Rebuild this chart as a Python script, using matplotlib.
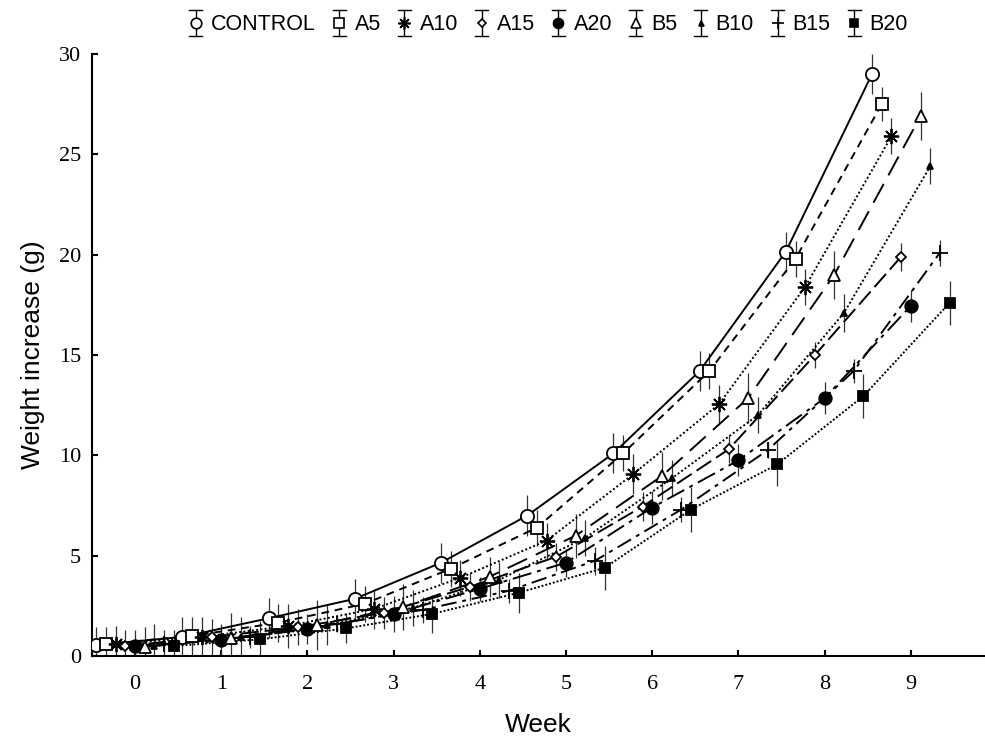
import numpy as np
import matplotlib
matplotlib.use("Agg")
import matplotlib.pyplot as plt
from matplotlib.lines import Line2D
from matplotlib.legend_handler import HandlerBase

# week index and horizontal offset of each group (groups are staggered around the week)
weeks = np.arange(10)
groups = ["CONTROL", "A5", "A10", "A15", "A20", "B5", "B10", "B15", "B20"]
offsets = [-0.45, -0.3375, -0.225, -0.1125, 0.0, 0.1125, 0.225, 0.3375, 0.45]

control = [0.55, 0.95, 1.88, 2.85, 4.65, 7.0, 10.1, 14.2, 20.15, 29.0]
a5 = [0.6, 1.0, 1.66, 2.6, 4.35, 6.4, 10.1, 14.2, 19.8, 27.5]
a10 = [0.6, 0.95, 1.5, 2.35, 3.9, 5.75, 9.05, 12.55, 18.4, 25.9]
a15 = [0.5, 0.95, 1.43, 2.16, 3.45, 4.95, 7.45, 10.3, 15.0, 19.9]
a20 = [0.5, 0.8, 1.33, 2.1, 3.35, 4.65, 7.4, 9.75, 12.85, 17.45]
b5 = [0.45, 0.88, 1.54, 2.45, 3.95, 6.0, 8.97, 12.85, 19.0, 26.9]
b10 = [0.5, 0.93, 1.54, 2.4, 3.8, 5.9, 8.85, 12.0, 17.1, 24.4]
b15 = [0.6, 0.95, 1.6, 2.3, 3.25, 4.75, 7.3, 10.25, 14.2, 20.1]
b20 = [0.5, 0.83, 1.38, 2.1, 3.15, 4.4, 7.3, 9.55, 12.95, 17.6]

control_err = [0.9, 1.0, 1.0, 1.0, 1.0, 1.0, 1.0, 1.0, 1.0, 1.0]
a5_err = [0.85, 0.95, 0.95, 0.9, 0.9, 0.9, 0.9, 0.9, 0.9, 0.85]
a10_err = [0.9, 1.0, 1.1, 1.0, 0.9, 0.9, 1.0, 0.95, 0.9, 0.9]
a15_err = [0.8, 0.9, 0.9, 0.8, 0.7, 0.7, 0.7, 0.7, 0.65, 0.7]
a20_err = [0.8, 0.8, 0.75, 0.9, 0.6, 0.7, 0.8, 0.8, 0.8, 0.8]
b5_err = [1.0, 1.25, 1.25, 1.15, 1.0, 1.1, 1.2, 1.25, 1.2, 1.2]
b10_err = [1.1, 1.0, 1.0, 0.9, 0.9, 0.9, 0.9, 0.9, 0.95, 0.9]
b15_err = [0.7, 0.55, 0.4, 0.65, 0.6, 0.7, 0.6, 0.4, 0.6, 0.65]
b20_err = [0.8, 0.9, 0.75, 0.95, 1.0, 1.1, 1.1, 1.1, 1.1, 1.1]

values = [control, a5, a10, a15, a20, b5, b10, b15, b20]
errors = [control_err, a5_err, a10_err, a15_err, a20_err, b5_err, b10_err, b15_err, b20_err]

# marker, size, face colour, line style
styles = [
    ("o", 9.5, "white", "-"),
    ("s", 8.5, "white", (0, (4, 3))),
    ((8, 2, 0), 11, "black", (0, (1, 1.2))),
    ("D", 5.5, "white", (0, (9, 3))),
    ("o", 9, "black", (0, (10, 3, 2, 3))),
    ("^", 8.5, "white", (0, (11, 5))),
    ("^", 4.5, "black", (0, (1, 1.2))),
    ("+", 11, "black", (0, (8, 3, 2, 3))),
    ("s", 7, "black", (0, (1, 1))),
]

sans = ["Liberation Sans", "DejaVu Sans"]
serif = ["Liberation Serif", "DejaVu Serif"]


class CapBarHandler(HandlerBase):
    # legend glyph: marker on a vertical error bar with caps
    def create_artists(self, legend, orig_handle, xdescent, ydescent, width, height, fontsize, trans):
        cx = width / 2 - xdescent
        cy = height / 2 - ydescent
        half = 0.62 * fontsize
        cap = 0.3 * fontsize
        kw = dict(color="black", lw=1.0, transform=trans)
        bar = Line2D([cx, cx], [cy - half, cy + half], **kw)
        top = Line2D([cx - cap, cx + cap], [cy + half, cy + half], **kw)
        bot = Line2D([cx - cap, cx + cap], [cy - half, cy - half], **kw)
        mk = Line2D([cx], [cy], linestyle="none", marker=orig_handle.get_marker(),
                    markersize=orig_handle.get_markersize(),
                    markerfacecolor=orig_handle.get_markerfacecolor(),
                    markeredgecolor="black", markeredgewidth=1.2, transform=trans)
        return [bar, top, bot, mk]


fig = plt.figure(figsize=(9.85, 7.38), dpi=100)
ax = fig.add_axes([92 / 985, 82 / 738, 1 - 92 / 985, 602 / 738])

handles = []
for name, off, y, e, (mk, ms, fc, ls) in zip(groups, offsets, values, errors, styles):
    x = weeks + off
    ax.errorbar(x, y, yerr=e, fmt="none", ecolor="#333333", elinewidth=0.9, capsize=0, zorder=2)
    ax.plot(x, y, color="black", linestyle=ls, linewidth=1.4, zorder=3)
    ax.plot(x, y, linestyle="none", marker=mk, markersize=ms, markerfacecolor=fc,
            markeredgecolor="black", markeredgewidth=1.3, zorder=4)
    handles.append(Line2D([], [], linestyle="none", marker=mk, markersize=ms * 0.8,
                          markerfacecolor=fc, markeredgecolor="black"))

ax.set_xlim(-0.5, (985 - 135) / 86.2)
ax.set_ylim(0, 30)
ax.set_xticks(range(10))
ax.set_yticks(range(0, 31, 5))
ax.spines["top"].set_visible(False)
ax.spines["right"].set_visible(False)
for s in ("left", "bottom"):
    ax.spines[s].set_linewidth(1.5)
ax.tick_params(direction="in", length=4, width=1.5, labelsize=16, pad=8)
for lab in ax.get_xticklabels() + ax.get_yticklabels():
    lab.set_family(serif)
ax.tick_params(axis="x", pad=14)

ax.set_xlabel("Week", family=sans, fontsize=19, labelpad=13)
ax.set_ylabel("Weight increase (g)", family=sans, fontsize=19, labelpad=10)

fig.legend(handles, groups, loc="center", bbox_to_anchor=(547 / 985, 1 - 25 / 738),
           ncol=9, frameon=False, prop={"family": sans, "size": 15.5},
           handlelength=0.9, handletextpad=0.25, columnspacing=0.65, borderpad=0,
           handler_map={Line2D: CapBarHandler()})

fig.savefig("out.png", dpi=100)
